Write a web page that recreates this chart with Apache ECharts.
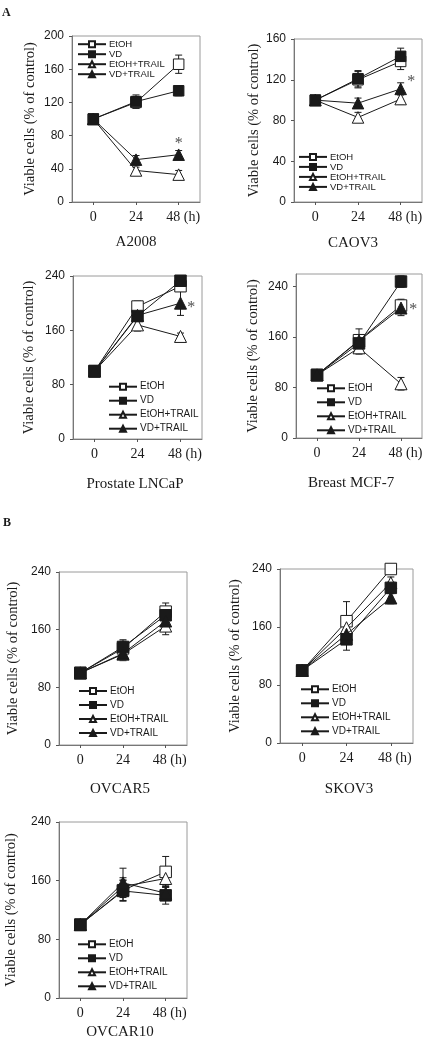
<!DOCTYPE html>
<html><head><meta charset="utf-8">
<script src="https://cdn.jsdelivr.net/npm/echarts@6/dist/echarts.min.js"></script>
<style>html,body{margin:0;padding:0;background:#fff}#c{width:435px;height:1050px}</style>
</head><body><div id="c"></div>
<script>
// ---- data ----
const hours = [0, 24, 48];
const seriesNames = ['EtOH', 'VD', 'EtOH+TRAIL', 'VD+TRAIL'];
const panelNames = ['A2008', 'CAOV3', 'Prostate LNCaP', 'Breast MCF-7', 'OVCAR5', 'SKOV3', 'OVCAR10'];
const yMaxes = [200, 160, 240, 260, 240, 240, 240];
const yTickValues = [
  [0, 40, 80, 120, 160, 200],
  [0, 40, 80, 120, 160],
  [0, 80, 160, 240],
  [0, 80, 160, 240],
  [0, 80, 160, 240],
  [0, 80, 160, 240],
  [0, 80, 160, 240]
];
const xTickValues = [0, 24, 48];
const yTitle = 'Viable cells (% of control)';
const panelLetters = ['A', 'B'];

const etoh      = [[100,120,166],[100,120,138],[100,195,225],[100,155,210],[100,134,185],[100,168,240],[100,147,172]];
const etohErr   = [[0,7,11],[0,8,8],[0,8,6],[0,18,10],[0,10,12],[0,27,5],[0,14,21]];
const vd        = [[100,121,134],[100,121,143],[100,181,233],[100,150,248],[100,136,180],[100,143,214],[100,146,140]];
const vdErr     = [[0,8,6],[0,8,8],[0,7,6],[0,10,9],[0,10,10],[0,15,8],[0,14,12]];
const etohTrail = [[100,38,33],[100,83,101],[100,168,151],[100,143,86],[100,126,165],[100,159,221],[100,152,163]];
const etohTrailErr = [[0,4,5],[0,5,5],[0,9,5],[0,10,10],[0,9,12],[0,10,8],[0,12,12]];
const vdTrail   = [[100,51,57],[100,97,111],[100,182,200],[100,154,206],[100,127,172],[100,150,200],[100,157,143]];
const vdTrailErr = [[0,5,5],[0,5,6],[0,8,18],[0,9,12],[0,8,10],[0,8,8],[0,20,10]];
const asterisks = [[48, 74], [54, 121], [54, 198], [55, 208], null, null, null];

// ---- layout / style (not data) ----
const grids = [
  {left: 72, top: 36, width: 128, height: 166},
  {left: 294, top: 39, width: 128, height: 163},
  {left: 73, top: 276, width: 129, height: 163},
  {left: 296, top: 274, width: 126, height: 164},
  {left: 59, top: 572, width: 128, height: 173},
  {left: 280, top: 569, width: 133, height: 174},
  {left: 59, top: 822, width: 128, height: 176}
];
const nameGaps = [34, 32, 36, 35, 38, 37, 40];
const legendPos = [
  {left: 77, top: 39.2, small: true},
  {left: 298, top: 151.9, small: true},
  {left: 108, top: 380.7},
  {left: 316, top: 382.3},
  {left: 78, top: 685},
  {left: 300, top: 683.3},
  {left: 77, top: 938.3}
];
const titlePos = [[136, 242], [353, 243], [135, 484], [351, 483], [120, 789], [349, 789], [120, 1032]];
const letterPos = [[2, 13], [3, 522.5]];

const SERIF = '"Liberation Serif","Times New Roman",serif';
const SANS = '"Liberation Sans",Arial,sans-serif';
const INK = '#1a1a1a';

const symStyles = {
  'EtOH': {symbol: 'rect', fill: '#fff', z: 3},
  'VD': {symbol: 'rect', fill: INK, z: 5},
  'EtOH+TRAIL': {symbol: 'triangle', fill: '#fff', z: 4},
  'VD+TRAIL': {symbol: 'triangle', fill: INK, z: 6}
};
const values = {'EtOH': etoh, 'VD': vd, 'EtOH+TRAIL': etohTrail, 'VD+TRAIL': vdTrail};
const errors = {'EtOH': etohErr, 'VD': vdErr, 'EtOH+TRAIL': etohTrailErr, 'VD+TRAIL': vdTrailErr};

const option = {
  animation: false,
  backgroundColor: '#fff',
  grid: [], xAxis: [], yAxis: [], series: [], legend: [], graphic: []
};

grids.forEach((g, i) => {
  const big = i >= 2;
  option.grid.push(Object.assign({show: true, borderColor: '#9a9a9a', borderWidth: 1, backgroundColor: 'transparent', containLabel: false}, g));
  option.xAxis.push({
    type: 'value', gridIndex: i, min: -12, max: 60,
    splitLine: {show: false},
    axisLine: {show: true, onZero: false, lineStyle: {color: '#777', width: 1}},
    axisTick: {show: true, inside: false, length: 3, customValues: xTickValues, lineStyle: {color: '#555'}},
    axisLabel: {
      customValues: xTickValues, margin: 8, color: INK, fontFamily: SERIF, fontSize: 14,
      formatter: v => v === 48 ? '{n|48}{h| (h)}' : String(v),
      rich: {
        n: {fontFamily: SERIF, fontSize: 14, color: INK, padding: [0, 0, 0, i < 4 ? 9 : 8]},
        h: {fontFamily: SERIF, fontSize: 14, color: INK}
      }
    }
  });
  option.yAxis.push({
    type: 'value', gridIndex: i, min: 0, max: yMaxes[i],
    splitLine: {show: false},
    name: yTitle, nameLocation: 'middle', nameGap: nameGaps[i], nameMoveOverlap: false,
    nameTextStyle: {fontFamily: SERIF, fontSize: 14.5, color: INK},
    axisLine: {show: true, onZero: false, lineStyle: {color: '#777', width: 1}},
    axisTick: {show: true, inside: false, length: 3, customValues: yTickValues[i], lineStyle: {color: '#555'}},
    axisLabel: {customValues: yTickValues[i], margin: 8, color: INK, fontFamily: SANS, fontSize: 12}
  });

  seriesNames.forEach(name => {
    const st = symStyles[name];
    const vals = values[name][i];
    const errs = errors[name][i];
    option.series.push({
      type: 'custom', xAxisIndex: i, yAxisIndex: i, z: 2, silent: true,
      data: hours.map((h, k) => [h, vals[k], errs[k]]),
      renderItem: (params, api) => {
        const x = api.value(0), y = api.value(1), e = api.value(2);
        if (!e) return null;
        const lo = api.coord([x, y - e]);
        const hi = api.coord([x, y + e]);
        const cw = 3.5;
        const style = {stroke: INK, lineWidth: 1};
        return {type: 'group', children: [
          {type: 'line', shape: {x1: lo[0], y1: lo[1], x2: hi[0], y2: hi[1]}, style},
          {type: 'line', shape: {x1: lo[0] - cw, y1: lo[1], x2: lo[0] + cw, y2: lo[1]}, style},
          {type: 'line', shape: {x1: hi[0] - cw, y1: hi[1], x2: hi[0] + cw, y2: hi[1]}, style}
        ]};
      }
    });
    option.series.push({
      name: name, type: 'line', xAxisIndex: i, yAxisIndex: i, z: st.z,
      data: hours.map((h, k) => [h, vals[k]]),
      symbol: st.symbol,
      symbolSize: st.symbol === 'rect' ? (big ? 11.5 : 10.5) : (big ? 12 : 11.5),
      showAllSymbol: true,
      lineStyle: {color: INK, width: 1},
      itemStyle: {color: st.fill, borderColor: INK, borderWidth: 1, opacity: 1},
      emphasis: {disabled: true}
    });
  });

  if (asterisks[i]) {
    option.series.push({
      type: 'scatter', xAxisIndex: i, yAxisIndex: i, z: 7, silent: true,
      symbolSize: 0, data: [asterisks[i]],
      label: {show: true, position: 'inside', formatter: '*', fontFamily: SERIF, fontSize: 16, color: INK, offset: [0, 3]}
    });
  }

  const lp = legendPos[i];
  option.legend.push({
    data: seriesNames, orient: 'vertical', left: lp.left, top: lp.top,
    padding: 0, itemWidth: 28, itemHeight: 7.5, itemGap: lp.small ? 0 : 2,
    selectedMode: false,
    textStyle: {fontFamily: SANS, fontSize: lp.small ? 9.5 : 10, color: INK, lineHeight: lp.small ? 7.6 : 12, padding: [0, 0, 0, -2]}
  });
});

option.graphic = panelNames.map((t, i) => ({
  type: 'text', silent: true, x: titlePos[i][0], y: titlePos[i][1],
  style: {text: t, font: '15px ' + SERIF, fill: INK, align: 'center', verticalAlign: 'middle'}
}));
panelLetters.forEach((L, j) => {
  option.graphic.push({
    type: 'text', silent: true, x: letterPos[j][0], y: letterPos[j][1],
    style: {text: L, font: 'bold 12px ' + SERIF, fill: INK, align: 'left', verticalAlign: 'middle'}
  });
});

const chart = echarts.init(document.getElementById('c'), null, {renderer: 'canvas'});
chart.setOption(option);
</script></body></html>
